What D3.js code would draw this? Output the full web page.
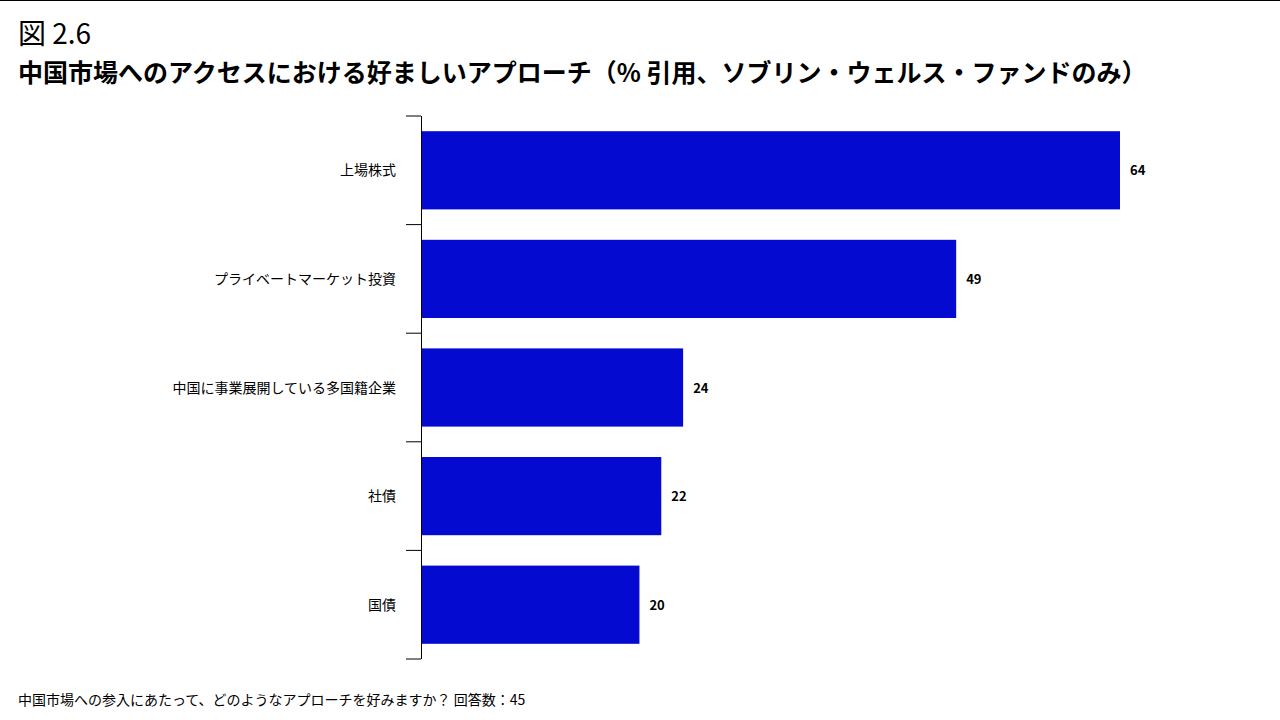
<!DOCTYPE html>
<html><head><meta charset="utf-8">
<script src="https://cdn.jsdelivr.net/npm/d3@7"></script>
<style>body{margin:0;background:#fff;font-family:"Noto Sans CJK JP","Noto Sans",sans-serif}</style>
</head><body><svg id="c" width="1280" height="720"></svg>
<script>
const categories=["上場株式","プライベートマーケット投資","中国に事業展開している多国籍企業","社債","国債"];
const values=[64,49,24,22,20];
const svg=d3.select("#c");
const F='"Noto Sans CJK JP",sans-serif';
svg.append("line").attr("x1",0).attr("x2",1280).attr("y1",0.5).attr("y2",0.5).attr("stroke","#000");
svg.append("text").attr("x",18).attr("y",44).attr("font-size",28).attr("font-family",F).text("図 2.6");
svg.append("text").attr("x",18).attr("y",82).attr("font-size",25).attr("font-weight","bold").attr("font-family",F)
 .text("中国市場へのアクセスにおける好ましいアプローチ（% 引用、ソブリン・ウェルス・ファンドのみ）");
svg.append("text").attr("x",18).attr("y",705).attr("font-size",14).attr("font-family",F)
 .text("中国市場への参入にあたって、どのようなアプローチを好みますか？ 回答数：45");
const x=d3.scaleLinear().domain([0,64]).range([421,1120]);
const y=d3.scaleBand().domain(categories).range([116,659]).paddingInner(0.28).paddingOuter(0.14);
svg.selectAll("rect").data(values).join("rect")
 .attr("x",x(0)).attr("y",(d,i)=>y(categories[i])).attr("width",d=>x(d)-x(0)).attr("height",y.bandwidth()).attr("fill","#040ACF");
svg.selectAll(".v").data(values).join("text").attr("x",d=>x(d)+10).attr("y",(d,i)=>y(categories[i])+y.bandwidth()/2+5)
 .attr("font-size",13).attr("font-weight","bold").attr("font-family",F).text(d=>d);
svg.selectAll(".c").data(categories).join("text").attr("x",396).attr("y",d=>y(d)+y.bandwidth()/2+5)
 .attr("text-anchor","end").attr("font-size",14).attr("font-family",F).text(d=>d);
const step=(659-116)/categories.length;
svg.append("line").attr("x1",421.5).attr("x2",421.5).attr("y1",116).attr("y2",659).attr("stroke","#000");
d3.range(categories.length+1).forEach(i=>{
 svg.append("line").attr("x1",406).attr("x2",421).attr("y1",116+i*step).attr("y2",116+i*step).attr("stroke","#000");
});
</script></body></html>
